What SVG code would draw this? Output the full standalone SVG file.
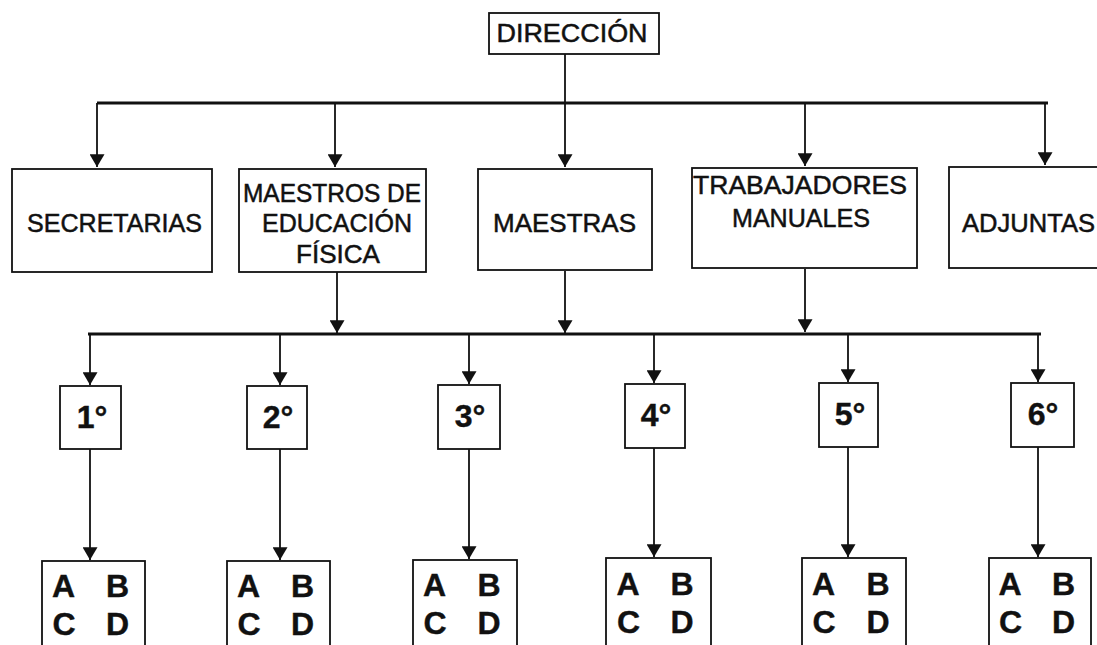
<svg xmlns="http://www.w3.org/2000/svg" width="1097" height="645" viewBox="0 0 1097 645">
<style>
.box{fill:#fff;stroke:#111;stroke-width:1.8}
.lbl{font-family:"Liberation Sans",Arial,sans-serif;font-size:26px;fill:#111;stroke:#111;stroke-width:0.5;text-anchor:middle}
.big{font-family:"Liberation Sans",Arial,sans-serif;font-size:32px;font-weight:bold;fill:#111;stroke:#111;stroke-width:0.4;text-anchor:middle}
.ln{stroke:#111;stroke-width:1.8;fill:none}
.bar{stroke:#111;stroke-width:2.8;fill:none}
</style>
<defs>
<marker id="ah" markerUnits="userSpaceOnUse" markerWidth="13" markerHeight="15" refX="12" refY="7" orient="auto" viewBox="0 0 12 14">
<path d="M0,0 L12,7 L0,14 Z" fill="#111"/>
</marker>
</defs>
<rect width="1097" height="645" fill="#fff"/>
<g id="connectors">
<line class="ln" x1="565" y1="54" x2="565" y2="103"/>
<line class="bar" x1="97" y1="103" x2="1048" y2="103"/>
<line class="ln" x1="97" y1="103" x2="97" y2="167" marker-end="url(#ah)"/>
<line class="ln" x1="335" y1="103" x2="335" y2="167" marker-end="url(#ah)"/>
<line class="ln" x1="565" y1="103" x2="565" y2="167" marker-end="url(#ah)"/>
<line class="ln" x1="805" y1="103" x2="805" y2="166" marker-end="url(#ah)"/>
<line class="ln" x1="1045" y1="103" x2="1045" y2="165" marker-end="url(#ah)"/>
<line class="ln" x1="337" y1="272" x2="337" y2="333" marker-end="url(#ah)"/>
<line class="ln" x1="565" y1="271" x2="565" y2="333" marker-end="url(#ah)"/>
<line class="ln" x1="805" y1="269" x2="805" y2="332" marker-end="url(#ah)"/>
<line class="bar" x1="88" y1="334" x2="1041" y2="334"/>
<line class="ln" x1="90" y1="334" x2="90" y2="385" marker-end="url(#ah)"/>
<line class="ln" x1="280" y1="334" x2="280" y2="385" marker-end="url(#ah)"/>
<line class="ln" x1="469" y1="334" x2="469" y2="384" marker-end="url(#ah)"/>
<line class="ln" x1="654" y1="334" x2="654" y2="383" marker-end="url(#ah)"/>
<line class="ln" x1="848" y1="334" x2="848" y2="382" marker-end="url(#ah)"/>
<line class="ln" x1="1038" y1="334" x2="1038" y2="382" marker-end="url(#ah)"/>
<line class="ln" x1="90" y1="449" x2="90" y2="560" marker-end="url(#ah)"/>
<line class="ln" x1="280" y1="449" x2="280" y2="560" marker-end="url(#ah)"/>
<line class="ln" x1="469" y1="449" x2="469" y2="559" marker-end="url(#ah)"/>
<line class="ln" x1="654" y1="448" x2="654" y2="557" marker-end="url(#ah)"/>
<line class="ln" x1="848" y1="447" x2="848" y2="557" marker-end="url(#ah)"/>
<line class="ln" x1="1038" y1="447" x2="1038" y2="557" marker-end="url(#ah)"/>
</g>
<g id="direccion"><rect class="box" x="489" y="13" width="170" height="41"/><text class="lbl" x="572" y="42" textLength="151" lengthAdjust="spacingAndGlyphs">DIRECCIÓN</text></g>
<g id="secretarias"><rect class="box" x="12" y="169" width="200" height="103"/><text class="lbl" x="114.5" y="232" textLength="175" lengthAdjust="spacingAndGlyphs">SECRETARIAS</text></g>
<g id="maestros-ef"><rect class="box" x="239" y="169" width="187" height="103"/>
<text class="lbl" x="332" y="202" textLength="178" lengthAdjust="spacingAndGlyphs">MAESTROS DE</text>
<text class="lbl" x="337" y="232" textLength="150" lengthAdjust="spacingAndGlyphs">EDUCACIÓN</text>
<text class="lbl" x="338" y="263" textLength="84" lengthAdjust="spacingAndGlyphs">FÍSICA</text></g>
<g id="maestras"><rect class="box" x="478" y="169" width="174" height="101"/><text class="lbl" x="564.5" y="232" textLength="143" lengthAdjust="spacingAndGlyphs">MAESTRAS</text></g>
<g id="trabajadores"><rect class="box" x="692" y="168" width="225" height="100"/>
<text class="lbl" x="800" y="194" textLength="214" lengthAdjust="spacingAndGlyphs">TRABAJADORES</text>
<text class="lbl" x="801" y="227" textLength="138" lengthAdjust="spacingAndGlyphs">MANUALES</text></g>
<g id="adjuntas"><rect class="box" x="949" y="167" width="160" height="101"/><text class="lbl" x="1028.5" y="232" textLength="133" lengthAdjust="spacingAndGlyphs">ADJUNTAS</text></g>
<g id="g1"><rect class="box" x="60" y="386" width="61" height="63"/><text class="big" x="92" y="428">1°</text></g>
<g id="g2"><rect class="box" x="247" y="386" width="60" height="63"/><text class="big" x="278" y="428">2°</text></g>
<g id="g3"><rect class="box" x="438" y="385" width="62" height="64"/><text class="big" x="470" y="427">3°</text></g>
<g id="g4"><rect class="box" x="625" y="384" width="60" height="64"/><text class="big" x="656" y="426">4°</text></g>
<g id="g5"><rect class="box" x="819" y="383" width="59" height="64"/><text class="big" x="850" y="425">5°</text></g>
<g id="g6"><rect class="box" x="1011" y="383" width="63" height="64"/><text class="big" x="1043" y="425">6°</text></g>
<g id="s1"><rect class="box" x="42" y="561" width="103" height="95"/><text class="big" x="63.5" y="597">A</text><text class="big" x="117.5" y="597">B</text><text class="big" x="64" y="635">C</text><text class="big" x="117.5" y="635">D</text></g>
<g id="s2"><rect class="box" x="227" y="561" width="103" height="95"/><text class="big" x="248.5" y="597">A</text><text class="big" x="302.5" y="597">B</text><text class="big" x="249" y="635">C</text><text class="big" x="302.5" y="635">D</text></g>
<g id="s3"><rect class="box" x="413" y="560" width="104" height="95"/><text class="big" x="434.5" y="596">A</text><text class="big" x="489" y="596">B</text><text class="big" x="435" y="634">C</text><text class="big" x="489" y="634">D</text></g>
<g id="s4"><rect class="box" x="606" y="558" width="105" height="95"/><text class="big" x="628" y="595">A</text><text class="big" x="682" y="595">B</text><text class="big" x="628.5" y="633">C</text><text class="big" x="682" y="633">D</text></g>
<g id="s5"><rect class="box" x="802" y="558" width="104" height="95"/><text class="big" x="823.5" y="595">A</text><text class="big" x="878" y="595">B</text><text class="big" x="824" y="633">C</text><text class="big" x="878" y="633">D</text></g>
<g id="s6"><rect class="box" x="989" y="558" width="102" height="95"/><text class="big" x="1010" y="595">A</text><text class="big" x="1063.5" y="595">B</text><text class="big" x="1010.5" y="633">C</text><text class="big" x="1063.5" y="633">D</text></g>
</svg>
